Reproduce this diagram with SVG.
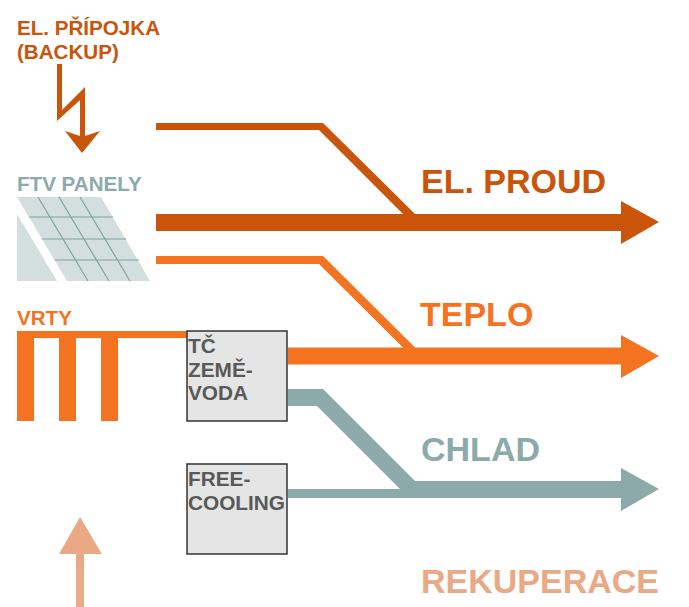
<svg xmlns="http://www.w3.org/2000/svg" width="689" height="607" viewBox="0 0 689 607">
<style>
text{font-family:"Liberation Sans",Arial,sans-serif;font-weight:700}
.el{fill:#c9540a}.tep{fill:#f47321}.chl{fill:#8baaa9}.rek{fill:#e9a985}
.sm{font-size:20.6px}.big{font-size:34px}
.box{fill:#e5e5e5;stroke:#333;stroke-width:1.5}
.lbl{fill:#595959;font-size:20.8px}
.pl{fill:#d3dfde}.gl{stroke:#7fa3a1;stroke-width:1.2;fill:none}
</style>
<rect width="689" height="607" fill="#fff"/>
<g id="connectors">
<path class="el" d="M156 123H323L415 214H621V201L659 222L621 244V231H156V214H403L319 130H156Z"/>
<path class="tep" d="M156 256H323L415 347.500H621V335L659 356L621 378V364.500H288V347.500H403L319 264H156Z"/>
<path class="chl" d="M288 389H323L415 481H621V468L659 489L621 511V498H288V489H400L317 406H288Z"/>
<path class="rek" d="M76 607V554H59L80 517L102 554H84V607Z"/>
<path class="el" d="M57 64H62V110L85 87V136L100 131L82 153L65 131L80 136V100L57 121Z"/>
</g>
<g id="label-elpripojka"><text class="el sm" x="17" y="35">EL. PŘÍPOJKA</text><text class="el sm" x="17" y="59">(BACKUP)</text></g>
<g id="label-elproud"><text class="el big" x="421" y="193">EL. PROUD</text></g>
<g id="label-teplo"><text class="tep big" x="420" y="326">TEPLO</text></g>
<g id="label-chlad"><text class="chl big" x="421" y="461">CHLAD</text></g>
<g id="label-rekuperace"><text class="rek big" x="421" y="593">REKUPERACE</text></g>
<g id="ftv-panely">
<text class="chl sm" x="17" y="191">FTV PANELY</text>
<path class="pl" d="M17 214L57 281H17Z"/>
<path class="pl" d="M17 197H101L150 281H67Z"/>
<path class="gl" d="M38 197L88 281M59 197L109 281M80 197L130 281M29 217H113M42 239H126M55 260H139"/>
</g>
<g id="vrty">
<text class="tep sm" x="17" y="325">VRTY</text>
<path class="tep" d="M17 331H187V338H118V421H101V338H76V421H59V338H34V421H17Z"/>
</g>
<g id="tc-zeme-voda">
<rect class="box" x="187" y="331" width="100" height="90"/>
<text class="lbl" x="188" y="353">TČ</text><text class="lbl" x="188" y="377">ZEMĚ-</text><text class="lbl" x="188" y="400">VODA</text>
</g>
<g id="free-cooling">
<rect class="box" x="187" y="464" width="100" height="90"/>
<text class="lbl" x="188" y="486">FREE-</text><text class="lbl" x="188" y="510">COOLING</text>
</g>
</svg>
